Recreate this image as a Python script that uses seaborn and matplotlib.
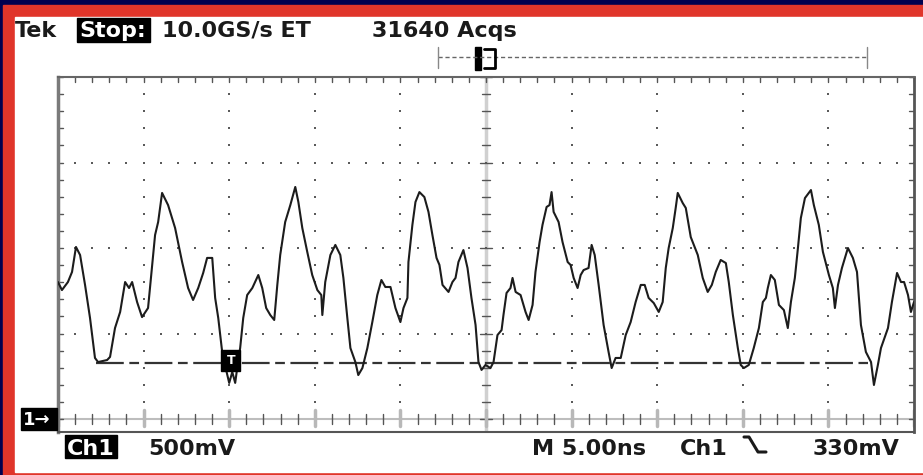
import numpy as np
import matplotlib
matplotlib.use("Agg")
import matplotlib.pyplot as plt
import seaborn as sns
from matplotlib.patches import Rectangle
from matplotlib.lines import Line2D

# Channel 1 trace (time in ns, level in mV)
time_ns = [
    0.00, 0.23, 0.58, 0.82, 1.05, 1.29, 1.58, 1.87, 2.16, 2.34,
    2.87, 3.04, 3.33, 3.63, 3.92, 4.15, 4.33, 4.62, 4.91, 5.26,
    5.50, 5.67, 5.85, 6.08, 6.43, 6.84, 7.25, 7.60, 7.89, 8.19,
    8.48, 8.71, 9.01, 9.18, 9.36, 9.59, 9.82, 10.00, 10.18, 10.35,
    10.53, 10.64, 10.82, 11.05, 11.35, 11.70, 11.93, 12.16, 12.40, 12.63,
    12.81, 12.98, 13.27, 13.57, 13.86, 14.04, 14.27, 14.56, 14.85, 15.15,
    15.38, 15.44, 15.61, 15.91, 16.20, 16.49, 16.67, 16.90, 17.08, 17.37,
    17.54, 17.78, 18.07, 18.36, 18.65, 18.89, 19.12, 19.42, 19.71, 20.00,
    20.18, 20.41, 20.47, 20.70, 20.88, 21.11, 21.40, 21.64, 21.87, 22.11,
    22.28, 22.46, 22.81, 23.04, 23.22, 23.39, 23.68, 23.92, 24.15, 24.39,
    24.56, 24.74, 24.97, 25.26, 25.44, 25.67, 25.91, 26.02, 26.20, 26.43,
    26.55, 26.73, 27.02, 27.31, 27.49, 27.72, 27.89, 28.13, 28.30, 28.54,
    28.71, 28.83, 28.95, 29.24, 29.47, 29.77, 29.94, 30.12, 30.35, 30.53,
    30.70, 30.99, 31.17, 31.35, 31.58, 31.87, 32.16, 32.34, 32.57, 32.87,
    33.16, 33.45, 33.74, 34.04, 34.27, 34.50, 34.80, 35.09, 35.32, 35.50,
    35.67, 35.91, 36.08, 36.20, 36.49, 36.67, 36.96, 37.37, 37.66, 37.95,
    38.19, 38.42, 38.71, 39.01, 39.18, 39.42, 39.71, 39.88, 40.06, 40.35,
    40.64, 40.94, 41.17, 41.35, 41.46, 41.64, 41.87, 42.11, 42.40, 42.63,
    42.81, 43.04, 43.22, 43.39, 43.63, 43.98, 44.15, 44.44, 44.68, 45.03,
    45.26, 45.38, 45.56, 45.79, 46.14, 46.43, 46.67, 46.90, 47.19, 47.49,
    47.66, 47.89, 48.07, 48.48, 48.71, 49.01, 49.24, 49.42, 49.65, 49.82,
    50.00,
]
ch1_mv = [
    801, 754, 801, 860, 1006, 959, 784, 591, 357, 333,
    345, 363, 532, 626, 801, 766, 801, 684, 596, 649,
    901, 1076, 1152, 1322, 1251, 1117, 918, 766, 696, 766,
    854, 942, 942, 708, 591, 392, 287, 211, 275, 211,
    345, 415, 591, 725, 766, 842, 766, 649, 608, 579,
    784, 959, 1152, 1251, 1357, 1269, 1117, 977, 842, 754,
    725, 608, 801, 959, 1018, 959, 825, 591, 415, 333,
    257, 298, 415, 567, 725, 813, 772, 772, 649, 567,
    649, 708, 918, 1135, 1269, 1327, 1298, 1211, 1076, 942,
    901, 784, 743, 801, 825, 918, 988, 883, 708, 550,
    333, 287, 316, 298, 333, 491, 520, 608, 737, 766,
    825, 743, 725, 626, 579, 667, 860, 1035, 1135, 1240,
    1251, 1327, 1211, 1152, 1035, 918, 901, 825, 766, 842,
    871, 883, 1018, 959, 784, 550, 392, 298, 357, 357,
    491, 567, 684, 784, 784, 708, 678, 626, 684, 883,
    1000, 1117, 1234, 1322, 1263, 1234, 1064, 959, 825, 743,
    784, 860, 930, 912, 801, 608, 415, 316, 298, 316,
    415, 532, 684, 708, 766, 842, 813, 667, 637, 532,
    684, 825, 1000, 1175, 1292, 1339, 1251, 1135, 977, 842,
    766, 649, 784, 883, 1000, 942, 860, 550, 392, 333,
    199, 316, 415, 532, 684, 854, 801, 801, 725, 626,
    684,
]

trigger_mv = 330
mv_per_div = 500
ns_per_div = 5

header_left = "Tek"
header_state = "Stop:"
header_rate = "10.0GS/s ET"
header_acqs = "31640 Acqs"
footer_ch = "Ch1"
footer_scale = "500mV"
footer_time = "M 5.00ns"
footer_trig_src = "Ch1"
footer_trig_level = "330mV"

W, H = 923, 475

sns.set_style("white")
plt.rcParams["font.family"] = ["DejaVu Sans"]
plt.rcParams["lines.scale_dashes"] = False


def fx(px):
    return px / W


def fy(py):
    return 1 - py / H


fig = plt.figure(figsize=(W / 100, H / 100), dpi=100, facecolor="#00004f")
fig.add_artist(Rectangle((fx(3), fy(475)), 920 / W, 470 / H,
                         transform=fig.transFigure, color="#e0352a", zorder=-10))
fig.add_artist(Rectangle((fx(15), fy(472)), 908 / W, 455 / H,
                         transform=fig.transFigure, color="white", zorder=-9))

ax = fig.add_axes([fx(58), fy(432), 856 / W, 355 / H])
ax.set_facecolor("white")
x_max = 10 * ns_per_div
y_top = 4 * mv_per_div
px_x = x_max / 856
px_y = (y_top + 76) / 355
ax.set_xlim(0, x_max)
ax.set_ylim(-76, y_top)
ax.set_xticks([])
ax.set_yticks([])
for side, col, lw in [("left", "#7a7a7a", 2.5), ("right", "#555555", 2),
                      ("top", "#666666", 1.5), ("bottom", "#555555", 1.5)]:
    ax.spines[side].set_color(col)
    ax.spines[side].set_linewidth(lw)

# graticule
minor_x = np.arange(0, x_max + 0.01, ns_per_div / 5)
minor_y = np.arange(0, y_top + 1, mv_per_div / 5)
major_x = [v for v in np.arange(ns_per_div, x_max, ns_per_div) if v != x_max / 2]
major_y = np.arange(mv_per_div, y_top, mv_per_div)
dot = dict(marker="s", s=3, color="#5a5a5a", linewidths=0, zorder=2)
for xm in major_x:
    ax.scatter([xm] * len(minor_y), minor_y, **dot)
for ym in major_y:
    ax.scatter(minor_x, [ym] * len(minor_x), **dot)

# center vertical line with ticks
ax.axvline(x_max / 2, color="#d0d0d0", lw=2.5, zorder=1)
for yv in minor_y:
    w = 6 if yv % mv_per_div == 0 else 4
    ax.plot([x_max / 2 - w * px_x, x_max / 2 + w * px_x], [yv, yv],
            color="#555555", lw=1, zorder=2)

# ground row with ticks
ax.axhline(0, color="#bdbdbd", lw=1.5, zorder=1)
for xv in minor_x:
    if xv % ns_per_div == 0:
        ax.plot([xv, xv], [-7 * px_y, 9 * px_y], color="#b8b8b8", lw=2.5, zorder=2)
    else:
        ax.plot([xv, xv], [-5 * px_y, 5 * px_y], color="#555555", lw=1, zorder=2)

# border ticks
for yv in minor_y:
    ax.plot([0, 5 * px_x], [yv, yv], color="#555555", lw=1, zorder=2)
    ax.plot([x_max - 5 * px_x, x_max], [yv, yv], color="#555555", lw=1, zorder=2)
for xv in minor_x:
    ax.plot([xv, xv], [y_top - 5 * px_y, y_top], color="#555555", lw=1, zorder=2)

# trigger level
ax.plot([2.2, 47.3], [trigger_mv, trigger_mv], color="#333333", lw=1.6,
        dashes=(20, 4, 7, 4), zorder=3)

# waveform
sns.lineplot(x=time_ns, y=ch1_mv, sort=False, estimator=None, color="#1c1c1c",
             lw=1.5, ax=ax, zorder=5)
ax.set_xlabel("")
ax.set_ylabel("")

# trigger point marker
ax.add_patch(Rectangle((9.55, 282), 1.1, 122, color="black", zorder=6))
ax.text(10.1, 343, "T", color="white", fontsize=9, fontweight="bold",
        ha="center", va="center", zorder=7)

# header / footer readouts
txt = dict(fontsize=16, fontweight="bold", va="baseline", color="#1a1a1a")
fig.text(fx(15), fy(37), header_left, **txt)
fig.add_artist(Rectangle((fx(77), fy(42)), 73 / W, 24 / H,
                         transform=fig.transFigure, color="black"))
fig.text(fx(79), fy(37), header_state, **{**txt, "color": "white"})
fig.text(fx(162), fy(37), header_rate, **txt)
fig.text(fx(372), fy(37), header_acqs, **txt)

fig.add_artist(Rectangle((fx(65), fy(458)), 52 / W, 23 / H,
                         transform=fig.transFigure, color="black"))
fig.text(fx(67), fy(455), footer_ch, **{**txt, "color": "white"})
fig.text(fx(148), fy(455), footer_scale, **txt)
fig.text(fx(532), fy(455), footer_time, **txt)
fig.text(fx(680), fy(455), footer_trig_src, **txt)
fig.text(fx(813), fy(455), footer_trig_level, **txt)
fig.add_artist(Line2D([fx(744), fx(749), fx(758), fx(766)],
                      [fy(437), fy(437), fy(452), fy(452)],
                      transform=fig.transFigure, color="#1a1a1a", lw=2.2))

# ground marker
fig.add_artist(Rectangle((fx(21), fy(430)), 36 / W, 22 / H,
                         transform=fig.transFigure, color="black"))
fig.text(fx(23), fy(425), "1\u2192", fontsize=13, fontweight="bold",
         color="white", va="baseline")

# record view bar
fig.add_artist(Line2D([fx(438), fx(867)], [fy(57), fy(57)], transform=fig.transFigure,
                      color="#666666", lw=1, linestyle=(0, (3, 2))))
for xe in (438, 867):
    fig.add_artist(Line2D([fx(xe), fx(xe)], [fy(47), fy(68)],
                          transform=fig.transFigure, color="#888888", lw=1))
fig.add_artist(Rectangle((fx(475), fy(70)), 6 / W, 23 / H,
                         transform=fig.transFigure, color="black"))
fig.add_artist(Line2D([fx(484), fx(495), fx(495), fx(484)],
                      [fy(49), fy(49), fy(68), fy(68)],
                      transform=fig.transFigure, color="black", lw=2))

fig.savefig("out.png", dpi=100, facecolor=fig.get_facecolor())
